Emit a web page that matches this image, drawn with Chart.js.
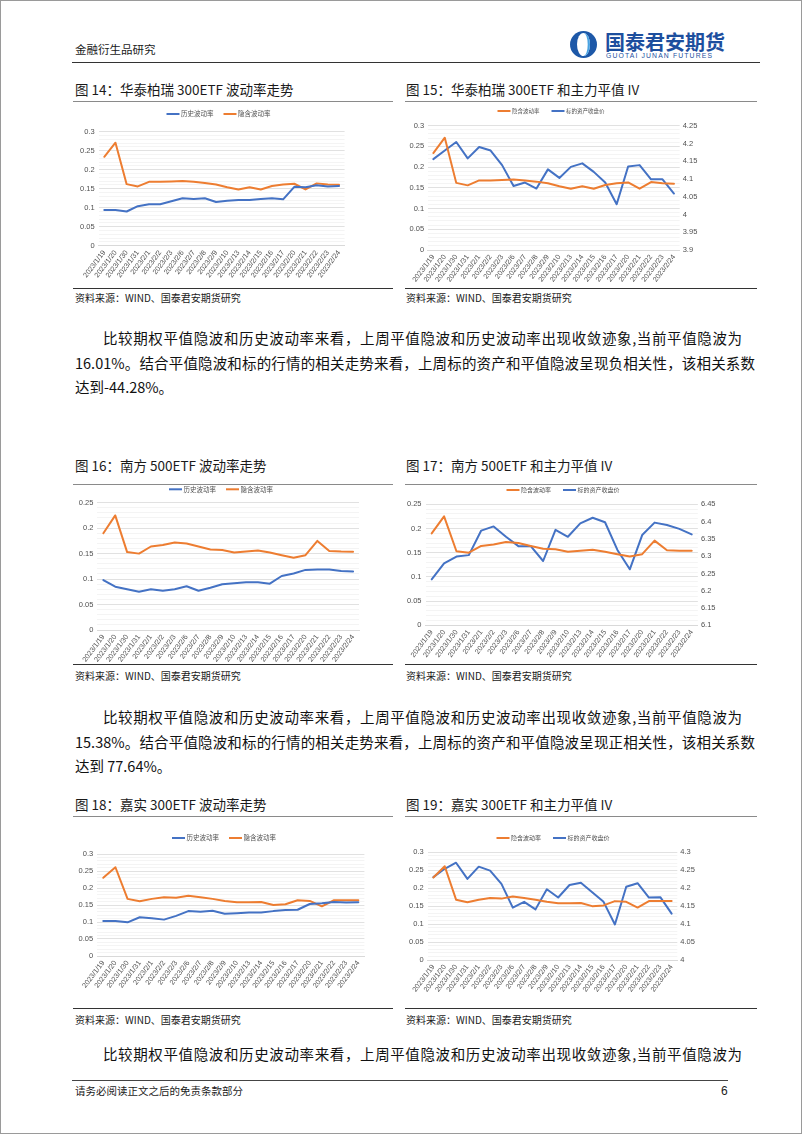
<!DOCTYPE html>
<html><head><meta charset="utf-8">
<script src="https://cdn.jsdelivr.net/npm/chart.js@4.4.0/dist/chart.umd.min.js"></script>
<style>
html,body{margin:0;padding:0;background:#fff;}
#page{position:relative;width:802px;height:1134px;overflow:hidden;background:#fff;}
#frame{position:absolute;left:0;top:0;width:800px;height:1132px;border:1px solid #9a9a9a;}
.t{position:absolute;white-space:nowrap;line-height:1;font-family:"Noto Sans CJK SC","Noto Sans",sans-serif;color:#1a1a1a;}
.p{position:absolute;line-height:1;font-family:"Noto Sans CJK SC","Noto Sans",sans-serif;color:#111;font-size:14.5px;text-align:justify;text-align-last:justify;}
.rule{position:absolute;height:0;}
canvas{position:absolute;}
</style></head>
<body><div id="page">
<div id="frame"></div>

<div class="t" style="left:75px;top:43.5px;font-size:11.5px;">金融衍生品研究</div>
<svg style="position:absolute;left:569px;top:30px" width="29" height="29" viewBox="0 0 29 29">
  <circle cx="14.5" cy="14.5" r="13.5" fill="#1d58a8"/>
  <ellipse cx="14.5" cy="14.5" rx="6.5" ry="11.5" fill="#ffffff"/>
  <path d="M14.5 3 A6.5 11.5 0 0 1 14.5 26 A4.2 11.5 0 0 0 14.5 3 Z" fill="#4aa3e2"/>
</svg>
<div class="t" style="left:605px;top:32px;font-size:20px;font-weight:bold;color:#1d4f9e;">国泰君安期货</div>
<div class="t" style="left:606px;top:52.5px;font-size:6.8px;color:#1d4f9e;font-family:'Liberation Sans',sans-serif;letter-spacing:1.15px;">GUOTAI JUNAN FUTURES</div>
<div class="rule" style="left:72px;top:61.5px;width:688px;border-top:1.5px solid #333;"></div>

<div class="t" style="left:75px;top:82.5px;font-size:13.5px;">图 14：华泰柏瑞 300ETF 波动率走势</div>
<div class="t" style="left:406px;top:82.5px;font-size:13.5px;">图 15：华泰柏瑞 300ETF 和主力平值 IV</div>
<div class="rule" style="left:73px;top:101px;width:320px;border-top:1px solid #8a8a8a;"></div>
<div class="rule" style="left:405px;top:101px;width:352px;border-top:1px solid #8a8a8a;"></div>
<canvas id="c14" width="320" height="186" style="left:73px;top:102px;"></canvas>
<canvas id="c15" width="355" height="186" style="left:405px;top:102px;"></canvas>
<div class="rule" style="left:73px;top:288px;width:320px;border-top:1.3px solid #333;"></div>
<div class="rule" style="left:405px;top:288px;width:352px;border-top:1.3px solid #333;"></div>
<div class="t" style="left:75px;top:292.5px;font-size:10px;">资料来源：WIND、国泰君安期货研究</div>
<div class="t" style="left:406px;top:292.5px;font-size:10px;">资料来源：WIND、国泰君安期货研究</div>

<div class="p" style="left:103px;top:331px;width:639px;">比较期权平值隐波和历史波动率来看，上周平值隐波和历史波动率出现收敛迹象,当前平值隐波为</div>
<div class="p" style="left:75px;top:356px;width:680px;">16.01%。结合平值隐波和标的行情的相关走势来看，上周标的资产和平值隐波呈现负相关性，该相关系数</div>
<div class="t" style="left:75px;top:380px;font-size:14.5px;color:#111;">达到-44.28%。</div>

<div class="t" style="left:75px;top:458.5px;font-size:13.5px;">图 16：南方 500ETF 波动率走势</div>
<div class="t" style="left:406px;top:458.5px;font-size:13.5px;">图 17：南方 500ETF 和主力平值 IV</div>
<div class="rule" style="left:73px;top:484px;width:320px;border-top:1px solid #8a8a8a;"></div>
<div class="rule" style="left:405px;top:484px;width:352px;border-top:1px solid #8a8a8a;"></div>
<canvas id="c16" width="320" height="178" style="left:73px;top:485px;"></canvas>
<canvas id="c17" width="355" height="178" style="left:405px;top:485px;"></canvas>
<div class="rule" style="left:73px;top:664px;width:320px;border-top:1.3px solid #333;"></div>
<div class="rule" style="left:405px;top:664px;width:352px;border-top:1.3px solid #333;"></div>
<div class="t" style="left:75px;top:670.5px;font-size:10px;">资料来源：WIND、国泰君安期货研究</div>
<div class="t" style="left:406px;top:670.5px;font-size:10px;">资料来源：WIND、国泰君安期货研究</div>

<div class="p" style="left:103px;top:710px;width:639px;">比较期权平值隐波和历史波动率来看，上周平值隐波和历史波动率出现收敛迹象,当前平值隐波为</div>
<div class="p" style="left:75px;top:735px;width:680px;">15.38%。结合平值隐波和标的行情的相关走势来看，上周标的资产和平值隐波呈现正相关性，该相关系数</div>
<div class="t" style="left:75px;top:759px;font-size:14.5px;color:#111;">达到 77.64%。</div>

<div class="t" style="left:75px;top:797.5px;font-size:13.5px;">图 18：嘉实 300ETF 波动率走势</div>
<div class="t" style="left:406px;top:797.5px;font-size:13.5px;">图 19：嘉实 300ETF 和主力平值 IV</div>
<div class="rule" style="left:73px;top:816px;width:320px;border-top:1px solid #8a8a8a;"></div>
<div class="rule" style="left:405px;top:816px;width:352px;border-top:1px solid #8a8a8a;"></div>
<canvas id="c18" width="320" height="190" style="left:73px;top:818px;"></canvas>
<canvas id="c19" width="355" height="190" style="left:405px;top:818px;"></canvas>
<div class="rule" style="left:73px;top:1008px;width:320px;border-top:1.3px solid #333;"></div>
<div class="rule" style="left:405px;top:1008px;width:352px;border-top:1.3px solid #333;"></div>
<div class="t" style="left:75px;top:1014.5px;font-size:10px;">资料来源：WIND、国泰君安期货研究</div>
<div class="t" style="left:406px;top:1014.5px;font-size:10px;">资料来源：WIND、国泰君安期货研究</div>

<div class="p" style="left:103px;top:1047px;width:639px;">比较期权平值隐波和历史波动率来看，上周平值隐波和历史波动率出现收敛迹象,当前平值隐波为</div>

<div class="rule" style="left:72px;top:1080px;width:656px;border-top:1.3px solid #444;"></div>
<div class="t" style="left:75px;top:1086px;font-size:10.5px;">请务必阅读正文之后的免责条款部分</div>
<div class="t" style="left:721px;top:1085px;font-size:12px;font-family:'Liberation Sans',sans-serif;">6</div>
</div>

<script>
// ---------- data ----------
const dates = ['2023/1/19','2023/1/20','2023/1/30','2023/1/31','2023/2/1','2023/2/2','2023/2/3','2023/2/6','2023/2/7','2023/2/8','2023/2/9','2023/2/10','2023/2/13','2023/2/14','2023/2/15','2023/2/16','2023/2/17','2023/2/20','2023/2/21','2023/2/22','2023/2/23','2023/2/24'];

const hs300HV    = [0.094,0.094,0.090,0.104,0.109,0.109,0.117,0.125,0.123,0.125,0.115,0.118,0.120,0.120,0.123,0.125,0.122,0.155,0.154,0.159,0.156,0.157];
const hs300IV    = [0.234,0.271,0.162,0.156,0.168,0.168,0.169,0.170,0.168,0.165,0.161,0.154,0.148,0.154,0.148,0.157,0.161,0.163,0.148,0.164,0.161,0.1601];
const hs300Close = [4.156,4.180,4.204,4.158,4.190,4.180,4.139,4.080,4.090,4.073,4.127,4.103,4.134,4.144,4.120,4.090,4.029,4.135,4.139,4.099,4.099,4.059];

const zz500HV    = [0.098,0.085,0.080,0.075,0.080,0.077,0.080,0.086,0.077,0.083,0.090,0.092,0.094,0.094,0.091,0.106,0.111,0.118,0.119,0.119,0.116,0.115];
const zz500IV    = [0.190,0.225,0.153,0.150,0.164,0.167,0.172,0.170,0.164,0.158,0.157,0.152,0.154,0.156,0.152,0.147,0.142,0.147,0.175,0.155,0.154,0.1538];
const zz500Close = [6.233,6.279,6.299,6.303,6.374,6.386,6.356,6.329,6.329,6.286,6.376,6.356,6.395,6.411,6.398,6.318,6.262,6.361,6.397,6.390,6.379,6.363];

const js300HV    = [0.103,0.103,0.099,0.114,0.111,0.107,0.118,0.132,0.130,0.133,0.124,0.126,0.128,0.128,0.132,0.135,0.136,0.153,0.155,0.159,0.157,0.158];
const js300IV    = [0.230,0.261,0.168,0.161,0.168,0.173,0.171,0.177,0.173,0.168,0.162,0.158,0.158,0.159,0.150,0.152,0.164,0.162,0.146,0.164,0.164,0.164];
const js300Close = [4.231,4.254,4.271,4.226,4.260,4.249,4.212,4.146,4.162,4.141,4.197,4.174,4.209,4.215,4.189,4.162,4.099,4.204,4.214,4.174,4.175,4.129];

const labelHV = '历史波动率';
const labelIV = '隐含波动率';
const labelClose = '标的资产收盘价';

// ---------- styling ----------
const BLUE = '#4472C4', ORANGE = '#ED7D31';
Chart.defaults.font.family = '"Liberation Sans","Noto Sans CJK SC",sans-serif';
Chart.defaults.color = '#595959';

const fmt = v => String(Math.round(v * 1000) / 1000);
const isMajor = (v, major) => Math.abs(v / major - Math.round(v / major)) < 1e-6;

const xlLegend = {
  id: 'xlLegend',
  afterDraw(chart, args, o) {
    const ctx = chart.ctx;
    ctx.save();
    ctx.font = o.size + 'px "Noto Sans CJK SC"';
    const items = chart.data.datasets.map(d => ({text: d.label, color: d.borderColor}));
    const widths = items.map(it => o.lineW + o.gap1 + ctx.measureText(it.text).width);
    const total = widths.reduce((a, b) => a + b, 0) + o.gap2 * (items.length - 1);
    let x = o.cx - total / 2;
    items.forEach((it, i) => {
      ctx.strokeStyle = it.color; ctx.lineWidth = 2;
      ctx.beginPath(); ctx.moveTo(x, o.cy); ctx.lineTo(x + o.lineW, o.cy); ctx.stroke();
      ctx.fillStyle = '#505050'; ctx.textBaseline = 'middle'; ctx.textAlign = 'left';
      ctx.fillText(it.text, x + o.lineW + o.gap1, o.cy);
      x += widths[i] + o.gap2;
    });
    ctx.restore();
  }
};

function makeChart(id, box, plot, leg, leftMax, right, datasets) {
  const padTop = plot.t - box.y;
  const xH = box.y + box.h - plot.b;
  const yW = plot.l - box.x;
  const padRight = right ? 0 : (box.x + box.w - plot.r);
  const y2W = right ? (box.x + box.w - plot.r) : 0;
  const major = 0.05, minor = 0.01;
  const scales = {
    x: {
      type: 'category', offset: true,
      grid: {display: false, drawTicks: false},
      border: {display: true, color: '#d9d9d9', width: 1},
      ticks: {autoSkip: false, maxRotation: 53, minRotation: 53, padding: 3, font: {size: leg.xs || 7.2}, color: '#505050'},
      afterFit: s => { s.height = xH; }
    },
    y: {
      position: 'left', min: 0, max: leftMax,
      ticks: {stepSize: minor, autoSkip: false, padding: leg.yp || 4, font: {size: 7.5}, color: '#505050',
        callback: v => isMajor(v, major) ? fmt(v) : ''},
      grid: {drawTicks: false, lineWidth: 0.8,
        color: c => isMajor(c.tick.value, major) ? '#d9d9d9' : '#f1f1f1'},
      border: {display: false},
      afterFit: s => { s.width = yW; }
    }
  };
  if (right) {
    scales.y2 = {
      position: 'right', min: right.min, max: right.max,
      ticks: {stepSize: 0.05, autoSkip: false, padding: 3, font: {size: 7.5}, color: '#505050', callback: v => fmt(v)},
      grid: {display: false, drawTicks: false},
      border: {display: false},
      afterFit: s => { s.width = y2W; }
    };
  }
  return new Chart(document.getElementById(id), {
    type: 'line',
    data: {labels: dates, datasets: datasets.map(d => Object.assign({
      borderWidth: 2, pointRadius: 0, tension: 0, fill: false, borderJoinStyle: 'round', borderCapStyle: 'round'
    }, d))},
    options: {
      responsive: false, animation: false,
      layout: {padding: {top: padTop, left: 0, right: padRight, bottom: 0}},
      scales,
      plugins: {
        legend: {display: false}, tooltip: {enabled: false},
        xlLegend: {cx: leg.cx - box.x, cy: leg.cy - box.y, size: leg.size, lineW: 13, gap1: 1.5, gap2: leg.gap2 || 9}
      }
    },
    plugins: [xlLegend]
  });
}

// 图14
makeChart('c14', {x:73, y:102, w:320, h:186}, {l:98.7, r:344.6, t:131.7, b:245.7},
  {cx:218.5, cy:114, size:6.5, gap2:10}, 0.3, null,
  [{label: labelHV, data: hs300HV, borderColor: BLUE, yAxisID: 'y'},
   {label: labelIV, data: hs300IV, borderColor: ORANGE, yAxisID: 'y'}]);

// 图15
makeChart('c15', {x:405, y:102, w:355, h:186}, {l:427.6, r:679.7, t:125.7, b:250},
  {cx:551, cy:111, size:5.5, gap2:12, yp:3.5}, 0.3, {min:3.9, max:4.25},
  [{label: labelIV, data: hs300IV, borderColor: ORANGE, yAxisID: 'y'},
   {label: labelClose, data: hs300Close, borderColor: BLUE, yAxisID: 'y2'}]);

// 图16
makeChart('c16', {x:73, y:485, w:320, h:178}, {l:97.4, r:359, t:502.7, b:630},
  {cx:221, cy:489.3, size:6.5, gap2:10}, 0.25, null,
  [{label: labelHV, data: zz500HV, borderColor: BLUE, yAxisID: 'y'},
   {label: labelIV, data: zz500IV, borderColor: ORANGE, yAxisID: 'y'}]);

// 图17
makeChart('c17', {x:405, y:485, w:355, h:178}, {l:425.5, r:697.9, t:504.3, b:625.3},
  {cx:563, cy:490, size:6, gap2:12}, 0.25, {min:6.1, max:6.45},
  [{label: labelIV, data: zz500IV, borderColor: ORANGE, yAxisID: 'y'},
   {label: labelClose, data: zz500Close, borderColor: BLUE, yAxisID: 'y2'}]);

// 图18
makeChart('c18', {x:73, y:818, w:320, h:190}, {l:97.2, r:364.4, t:854, b:956},
  {cx:224, cy:838, size:6.5, gap2:10}, 0.3, null,
  [{label: labelHV, data: js300HV, borderColor: BLUE, yAxisID: 'y'},
   {label: labelIV, data: js300IV, borderColor: ORANGE, yAxisID: 'y'}]);

// 图19
makeChart('c19', {x:405, y:818, w:355, h:190}, {l:427.7, r:677.3, t:852.3, b:960},
  {cx:553, cy:838, size:6, gap2:12}, 0.3, {min:4.0, max:4.3},
  [{label: labelIV, data: js300IV, borderColor: ORANGE, yAxisID: 'y'},
   {label: labelClose, data: js300Close, borderColor: BLUE, yAxisID: 'y2'}]);
</script>
</body></html>
